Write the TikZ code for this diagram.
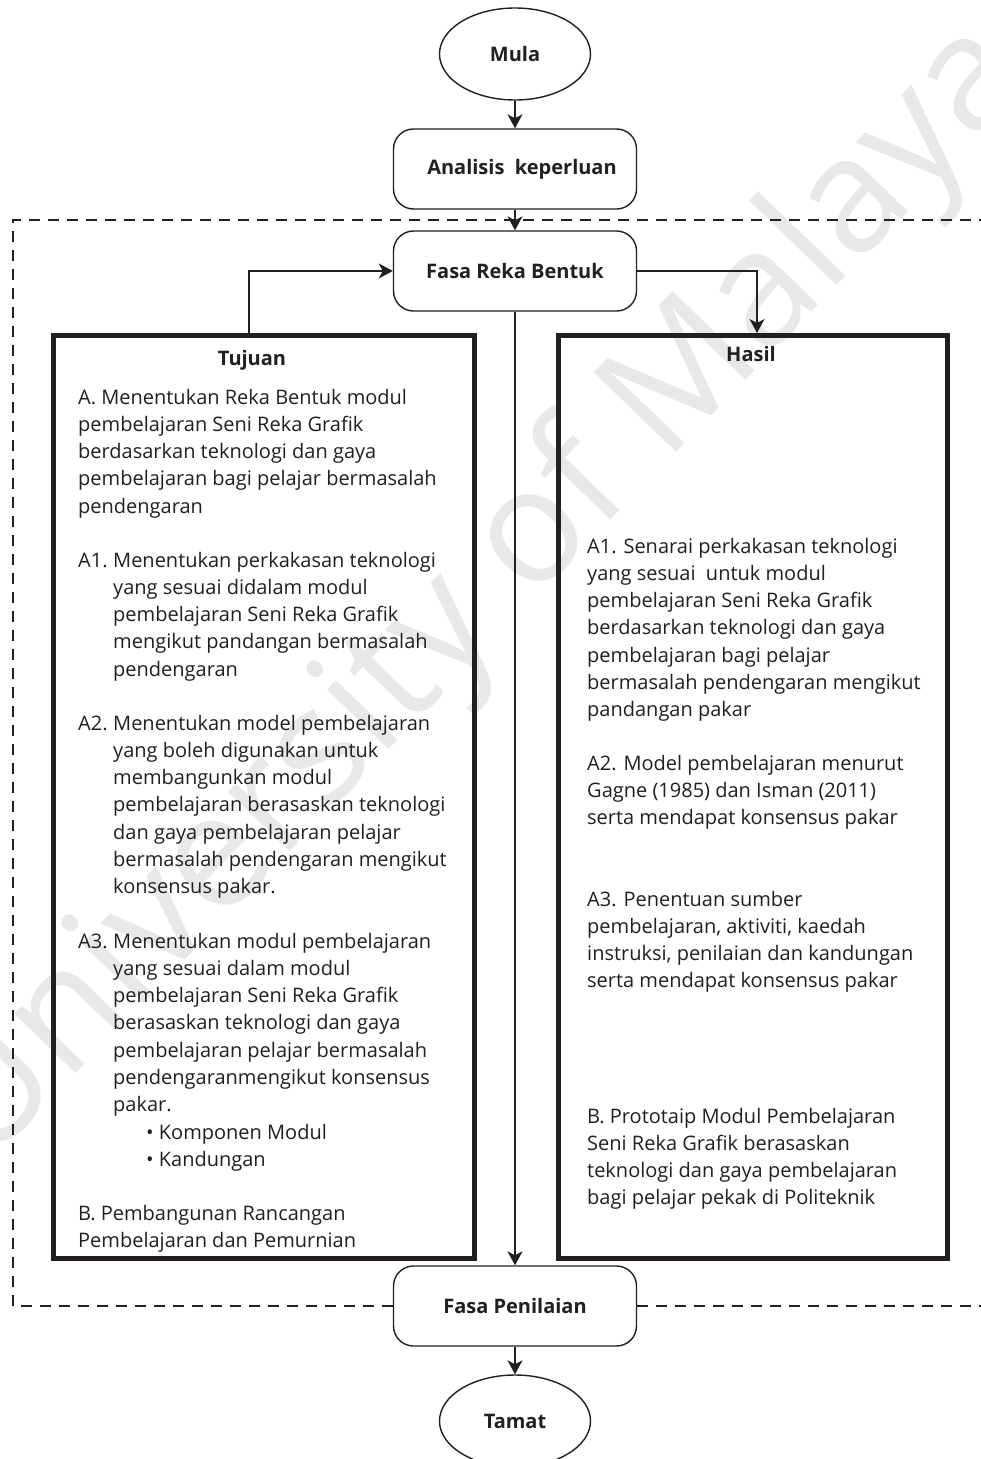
\documentclass[tikz,border=0pt]{standalone}
\usepackage{fontspec}
\setmainfont{Open Sans}
\usetikzlibrary{shapes.geometric,arrows.meta}
\definecolor{ink}{HTML}{231F20}
\definecolor{wmgray}{HTML}{E8E8E8}
\newcommand{\bodysize}{\fontsize{20}{27.3}\selectfont}
\newcommand{\headsize}{\fontsize{20}{25}\selectfont\bfseries}
\newcommand{\lbl}[1]{\makebox[35pt][l]{#1}}
\begin{document}
\begin{tikzpicture}[x=1pt,y=-1pt,
  flow/.style={draw=ink, line width=1.4pt, rounded corners=20pt, minimum width=243pt, minimum height=80pt, inner sep=0pt, text=ink, font=\headsize},
  term/.style={draw=ink, ellipse, line width=1.4pt, minimum width=151pt, minimum height=92pt, inner sep=0pt, text=ink, font=\headsize},
  panel/.style={draw=ink, line width=5pt, inner sep=0pt},
  conn/.style={draw=ink, line width=1.3pt, -{Stealth[length=14pt,width=15pt,inset=4pt]}},
  frame/.style={draw=ink, line width=1.3pt, dash pattern=on 11pt off 8pt},
  body/.style={inner sep=0pt, anchor=base west, text=ink},
  head/.style={inner sep=0pt, anchor=base, text=ink, font=\headsize},
  wm/.style={inner sep=0pt, text=wmgray, font=\fontsize{160}{160}\selectfont, rotate=46}
]
\useasboundingbox (0,0) rectangle (980,1459);
\fill[white] (0,0) rectangle (980,1459);

% watermark
\node[wm] (wmark) at (480,595) {University of Malaya};

% flow nodes
\node[term] (mula) at (515,54) {Mula};
\node[flow] (anal) at (515,169) {\hspace*{14pt}Analisis\ \ keperluan};
\node[flow] (reka) at (515,271) {Fasa Reka Bentuk};
\node[flow] (nilai) at (515,1306) {Fasa Penilaian};
\node[term] (tamat) at (515,1421) {Tamat};

% panels
\node[panel, minimum width=421pt, minimum height=923pt] (tbox) at (263.5,796.5) {};
\node[panel, minimum width=389pt, minimum height=923pt] (hbox) at (752.5,796.5) {};

% dashed frame
\coordinate (ftr) at (985,220);
\coordinate (ftl) at (13,220);
\coordinate (fbl) at (13,1306);
\coordinate (fbr) at (985,1306);
\draw[frame] (nilai.west) -- (fbl) -- (ftl) -- (ftr);
\draw[frame] (nilai.east) -- (fbr);

% connectors
\draw[conn] (mula.south) -- (anal.north);
\draw[conn] (anal.south) -- (reka.north);
\draw[conn] (reka.south) -- (nilai.north);
\draw[conn] (nilai.south) -- (tamat.north);
\coordinate (tl) at (249,333);
\coordinate (hr) at (757,333);
\draw[conn] (tl) |- (reka.west);
\draw[conn] (reka.east) -| (hr);

% headings
\node[head] (htuj) at (252,365) {Tujuan};
\node[head] (hhas) at (751,361) {Hasil};

% left texts
\node[body] (tA) at (78,404) {\parbox[t]{390pt}{\bodysize
A. Menentukan Reka Bentuk modul\\
pembelajaran Seni Reka Grafik\\
berdasarkan teknologi dan gaya\\
pembelajaran bagi pelajar bermasalah\\
pendengaran}};
\node[body] (tA1) at (78,567) {\parbox[t]{390pt}{\bodysize\hangindent=35pt\hangafter=1
\lbl{A1.}Menentukan perkakasan teknologi\\
yang sesuai didalam modul\\
pembelajaran Seni Reka Grafik\\
mengikut pandangan bermasalah\\
pendengaran}};
\node[body] (tA2) at (78,730) {\parbox[t]{390pt}{\bodysize\hangindent=35pt\hangafter=1
\lbl{A2.}Menentukan model pembelajaran\\
yang boleh digunakan untuk\\
membangunkan modul\\
pembelajaran berasaskan teknologi\\
dan gaya pembelajaran pelajar\\
bermasalah pendengaran mengikut\\
konsensus pakar.}};
\node[body] (tA3) at (78,948) {\parbox[t]{390pt}{\bodysize\hangindent=35pt\hangafter=1
\lbl{A3.}Menentukan modul pembelajaran\\
yang sesuai dalam modul\\
pembelajaran Seni Reka Grafik\\
berasaskan teknologi dan gaya\\
pembelajaran pelajar bermasalah\\
pendengaranmengikut konsensus\\
pakar.\\
\hspace*{33pt}\textbullet\ Komponen Modul\\
\hspace*{33pt}\textbullet\ Kandungan}};
\node[body] (tB) at (78,1220) {\parbox[t]{390pt}{\bodysize
B. Pembangunan Rancangan\\
Pembelajaran dan Pemurnian}};

% right texts
\node[body] (hA1) at (587,553) {\parbox[t]{355pt}{\bodysize
A1. Senarai perkakasan teknologi\\
yang sesuai\ \ untuk modul\\
pembelajaran Seni Reka Grafik\\
berdasarkan teknologi dan gaya\\
pembelajaran bagi pelajar\\
bermasalah pendengaran mengikut\\
pandangan pakar}};
\node[body] (hA2) at (587,770) {\parbox[t]{355pt}{\bodysize
A2. Model pembelajaran menurut\\
Gagne (1985) dan Isman (2011)\\
serta mendapat konsensus pakar}};
\node[body] (hA3) at (587,906) {\parbox[t]{355pt}{\bodysize
A3. Penentuan sumber\\
pembelajaran, aktiviti, kaedah\\
instruksi, penilaian dan kandungan\\
serta mendapat konsensus pakar}};
\node[body] (hB) at (587,1123) {\parbox[t]{355pt}{\bodysize
B. Prototaip Modul Pembelajaran\\
Seni Reka Grafik berasaskan\\
teknologi dan gaya pembelajaran\\
bagi pelajar pekak di Politeknik}};
\end{tikzpicture}
\end{document}
